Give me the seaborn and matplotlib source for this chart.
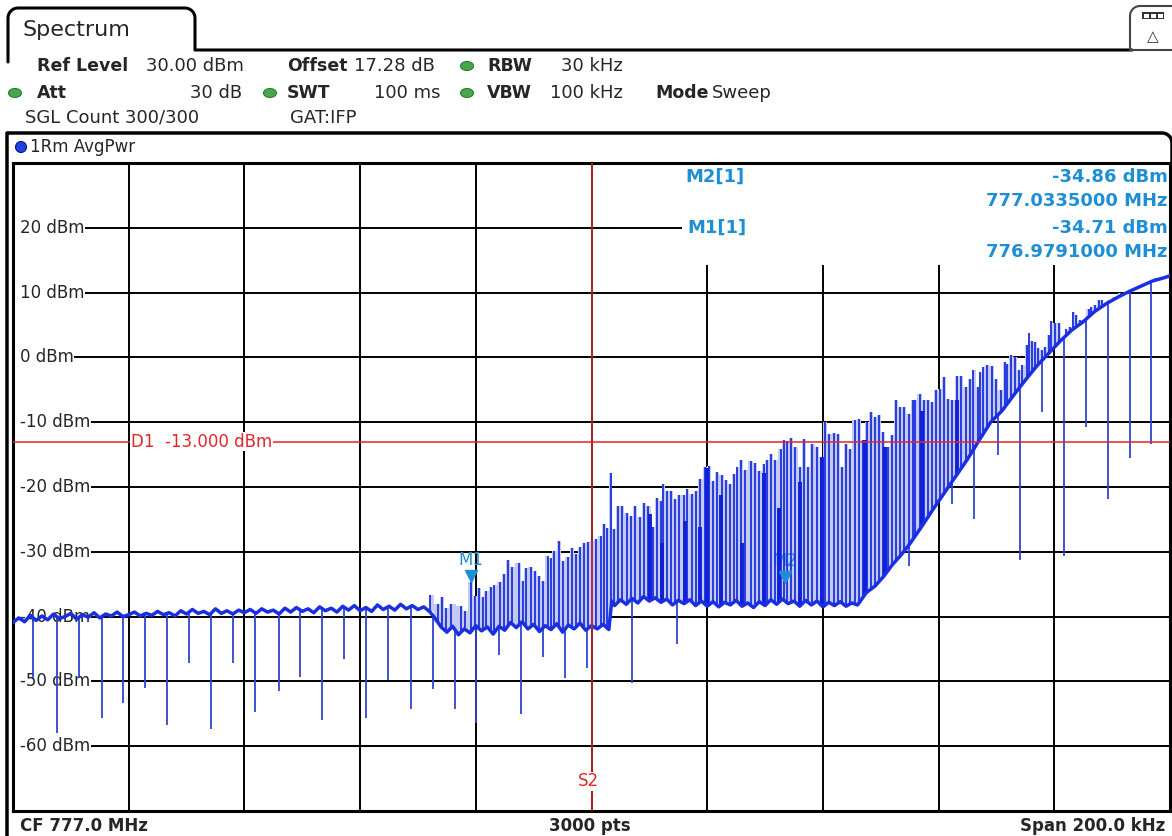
import numpy as np
import matplotlib
matplotlib.use("Agg")
import matplotlib.pyplot as plt
import matplotlib.transforms as mtransforms
from matplotlib.patches import Rectangle, Ellipse
import seaborn as sns

# ---------- data (frequency offset from CF in kHz, level in dBm) ----------
center_mhz = 777.0
span_khz = 200.0
ref_level = 30.0
n_points = 3000
d1_level = -13.0
s2_khz = 0.0

m1_khz, m1_db = -20.9, -34.71
m2_khz, m2_db = 33.5, -34.86

floor_khz = [-100, -99, -98, -97, -96, -95, -94, -93, -92, -91, -90, -89, -88, -87, -86, -85, -84, -83, -82, -81,
             -80, -79, -78, -77, -76, -75, -74, -73, -72, -71, -70, -69, -68, -67, -66, -65, -64, -63, -62, -61,
             -60, -59, -58, -57, -56, -55, -54, -53, -52, -51, -50, -49, -48, -47, -46, -45, -44, -43, -42, -41,
             -40, -39, -38, -37, -36, -35, -34, -33, -32, -31, -30, -29, -28,
             -27, -26, -25, -24, -23, -22, -21, -20, -19, -18, -17, -16, -15, -14, -13, -12, -11, -10, -9, -8,
             -7, -6, -5, -4, -3, -2, -1, 0, 1, 2, 3,
             3.5, 4, 5, 6, 7, 8, 9, 10, 11, 12, 13, 14, 15, 16, 17, 18, 19, 20, 21, 22, 23, 24, 25, 26,
             27, 28, 29, 30, 31, 32, 33, 34, 35, 36, 37, 38, 39, 40, 41, 42, 43, 44, 45, 46,
             47.5, 49, 50.5, 52, 53.5, 55, 57, 59, 61, 63, 65, 67, 69, 71, 73, 75, 77, 79, 81, 83, 85,
             87, 89, 91, 93, 95, 97, 99, 100]
floor_db = [-40.9, -40.2, -40.8, -39.8, -40.6, -39.9, -40.5, -39.6, -40.3, -40.0, -39.5, -40.4, -39.7, -40.1,
            -39.4, -40.2, -39.6, -39.9, -39.3, -40.0, -39.7, -39.3, -39.9, -39.5, -39.8, -39.2, -39.7, -39.4,
            -39.9, -39.1, -39.6, -38.9, -39.5, -39.2, -39.7, -38.8, -39.5, -39.1, -39.6, -39.0, -39.4, -38.9,
            -39.5, -38.8, -39.3, -39.0, -39.6, -38.7, -39.3, -38.6, -39.2, -38.8, -39.4, -38.5, -39.1, -38.7,
            -39.3, -38.4, -39.0, -38.3, -39.1, -38.6, -39.2, -38.2, -38.9, -38.4, -39.0, -38.1, -38.8, -38.3,
            -38.9, -38.5, -39.2,
            -40.3, -41.6, -42.4, -41.5, -42.8, -41.9, -42.5, -41.4, -42.2, -41.6, -42.7, -41.5, -42.1, -40.9,
            -41.7, -40.8, -41.9, -41.2, -42.3, -41.4, -42.0, -41.1, -42.4, -41.3, -41.9, -41.0, -42.1, -41.4,
            -41.9, -41.2, -42.0,
            -37.6, -38.3, -37.4, -38.1, -37.2, -37.9, -36.9, -37.6, -37.1, -37.8, -37.3, -38.2, -37.5, -38.0,
            -37.4, -38.3, -37.6, -38.4, -37.7, -38.5, -37.8, -38.2, -37.5, -38.4, -37.9, -38.6, -37.7, -38.3,
            -37.4, -38.1, -37.3, -38.0, -37.6, -38.4, -37.5, -38.2, -37.6, -38.5, -37.8, -38.3, -37.7, -38.4,
            -37.9, -38.2,
            -36.3, -35.3, -33.8, -32.0, -30.5, -28.8, -26.2, -23.5, -20.9, -18.3, -15.7, -12.8, -10.0, -8.2,
            -5.8, -3.5, -1.3, 0.6, 2.5, 4.2, 5.5, 7.1, 8.3, 9.3, 10.2, 11.0, 11.8, 12.3, 12.6]

up_khz = [-28.0, -26.6, -25.9, -25.1, -24.3, -22.6, -21.8, -20.9, -20.1, -19.4, -18.8, -18.2, -17.4, -16.8,
          -15.8, -15.1, -14.4, -13.7, -12.6, -11.9, -11.3, -10.5, -9.8, -9.1, -8.4, -7.6, -7.0, -6.5, -5.6,
          -4.9, -4.1, -3.3, -2.7, -2.0, -1.3, -0.6, 0.1, 0.8, 1.6, 2.2, 2.7, 3.3, 3.9, 4.6, 5.3, 6.1, 6.9,
          7.6, 8.3, 9.1, 9.8, 10.6, 11.4, 12.1, 12.4, 13.1, 13.7, 14.4, 15.1, 16.0, 16.5, 17.3, 18.0, 18.8,
          19.6, 20.3, 21.0, 21.7, 22.5, 23.2, 23.9, 24.6, 25.2, 25.9, 26.6, 27.5, 28.3, 29.0, 29.8, 30.3,
          31.1, 31.8, 32.7, 33.2, 33.8, 34.4, 35.2, 36.1, 36.8, 37.5, 38.2, 39.0, 39.7, 40.4, 41.1, 41.9,
          42.6, 43.3, 44.0, 44.7, 45.5, 46.2, 46.9, 47.7, 48.4, 49.0, 49.7, 50.4, 51.2, 51.9, 52.6, 53.4,
          54.1, 54.8, 55.5, 55.9, 56.7, 57.4, 58.1, 58.8, 59.6, 60.3, 61.0, 61.7, 62.4, 63.2, 63.9, 64.7,
          65.4, 66.0, 66.8, 67.2, 67.7, 68.3, 69.2, 69.9, 70.8, 71.4, 71.9, 72.6, 73.2, 73.9, 74.5, 75.2,
          75.6, 76.1, 76.7, 77.2, 77.8, 78.4, 79.0, 79.5, 80.2, 80.8, 81.5, 82.1, 82.7, 83.3, 83.8, 84.4,
          85.0, 86.0, 86.4, 87.0, 87.7, 88.3, 88.7, 89.6, 90.5, 91.6, 92.5, 93.6, 94.5, 95.6, 96.8, 97.6,
          98.5, 99.7]
up_db = [-36.6, -38.1, -36.9, -38.6, -38.0, -38.3, -39.1, -34.7, -36.8, -35.6, -37.0, -36.0, -35.5, -35.2,
         -34.7, -33.4, -31.3, -32.4, -31.8, -34.5, -32.5, -32.4, -32.9, -33.8, -34.5, -30.6, -31.0, -29.8, -28.3,
         -31.4, -30.8, -29.4, -30.3, -29.3, -28.7, -28.5, -28.3, -28.0, -27.6, -25.7, -26.3, -17.9, -26.5, -23.0,
         -23.0, -24.0, -24.4, -23.0, -24.6, -22.5, -22.9, -26.2, -21.7, -22.1, -19.5, -20.6, -20.6, -21.8, -21.2,
         -21.2, -20.3, -21.1, -20.6, -18.7, -16.9, -16.7, -19.0, -17.7, -18.2, -18.9, -19.5, -18.0, -16.9, -15.9,
         -17.3, -16.0, -16.3, -17.5, -16.4, -15.9, -14.9, -15.9, -14.1, -12.7, -12.9, -12.4, -13.8, -16.9, -12.6,
         -16.9, -13.3, -13.8, -15.4, -10.0, -11.8, -11.7, -11.8, -16.9, -13.3, -14.1, -9.6, -9.5, -12.8, -10.0,
         -8.4, -9.2, -8.9, -11.5, -13.8, -12.0, -6.6, -7.7, -7.6, -8.7, -6.6, -6.6, -5.6, -6.6, -6.5, -6.9,
         -5.0, -4.8, -3.0, -6.4, -6.6, -2.9, -2.8, -4.6, -3.3, -1.9, -4.6, -2.3, -1.5, -1.2, -1.4, -3.3, -5.1,
         -0.7, -1.0, 0.3, 0.0, -2.0, -1.2, 1.9, 3.8, 2.6, 2.4, 1.4, 1.1, 1.6, 3.4, 5.6, 5.3, 5.3, 2.9, 4.4,
         4.7, 7.0, 6.5, 5.7, 5.7, 7.5, 7.8, 8.1, 8.8, 8.8, 8.3, 8.9, 9.3, 9.9, 10.1, 10.5, 10.9, 11.4, 11.8,
         12.2, 12.4, 12.7]

cluster_khz = [10.1, 12.2, 16.1, 18.8, 19.9, 22.3, 26.0, 29.8, 32.4, 36.1, 39.8, 47.3, 50.8, 57.2, 63.2]
cluster_db = [-24.1, -28.7, -25.2, -26.2, -17.0, -21.3, -28.7, -17.9, -23.3, -19.3, -15.4, -12.8, -13.8, -8.2, -6.6]

down_khz = [-96.5, -92.4, -88.6, -84.7, -81.0, -77.1, -73.4, -69.6, -65.8, -62.0, -58.1, -54.1, -50.4, -46.6,
            -42.8, -39.0, -35.2, -31.2, -27.4, -23.6, -19.9, -16.0, -12.2, -8.4, -4.6, -0.8, 7.0, 14.7, 54.8,
            62.4, 66.2, 70.3, 74.1, 77.9, 81.7, 85.5, 89.3, 93.0, 96.8]
down_db = [-49.4, -58.0, -49.4, -55.6, -53.3, -51.0, -56.7, -47.1, -57.3, -47.1, -54.7, -51.5, -49.3, -55.9,
           -46.5, -55.6, -49.8, -54.2, -51.1, -54.2, -56.4, -45.9, -55.0, -46.2, -49.4, -47.9, -50.2, -44.3, -32.2,
           -22.7, -24.9, -15.0, -31.2, -8.4, -30.6, -10.8, -21.8, -15.6, -13.3]

y_grid = [20, 10, 0, -10, -20, -30, -40, -50, -60]
x_grid = [-80, -60, -40, -20, 0, 20, 40, 60, 80]

# ---------- style ----------
sns.set_style("white")
plt.rcParams['font.family'] = ['DejaVu Sans']

trace_col = '#1a30e0'
fill_col = '#c4caee'
red = '#e3252b'
mk_col = '#1e8fd5'

W, H = 1172, 836
fig = plt.figure(figsize=(W / 100, H / 100), dpi=100)

# background axes in pixel units for the instrument chrome
bg = fig.add_axes([0, 0, 1, 1])
bg.set_xlim(0, W)
bg.set_ylim(H, 0)
bg.axis('off')


def arc(cx, cy, r, a0, a1):
    t = np.radians(np.linspace(a0, a1, 12))
    return list(cx + r * np.cos(t)), list(cy + r * np.sin(t))


# tab "Spectrum"
ax_x, ax_y = arc(18, 18, 10, 180, 270)
bx_x, bx_y = arc(185, 18, 10, 270, 360)
bg.plot([8] + ax_x + bx_x + [195, 1132], [62] + ax_y + bx_y + [50, 50], color='black', lw=2.2)
bg.text(22, 30, "Spectrum", fontsize=16, va='center', ha='left')

# icon box top right
cx_x, cy_y = arc(1140, 16, 10, 180, 270)
bg.plot([1130] + cx_x + [1180], [50] + cy_y + [6], color='#444444', lw=1.5)
bg.plot([1130, 1180], [50, 50], color='#444444', lw=1.5)
bg.add_patch(Rectangle((1142, 12), 22, 7, fc='#333333', ec='none'))
for xx in (1144, 1151, 1158):
    bg.add_patch(Rectangle((xx, 13.5), 5, 4, fc='white', ec='none'))
bg.text(1153, 37, "\u25b3", fontsize=11, ha='center', va='center', color='#333333')

# settings rows
rows = [
    (37, 66, "Ref Level", 'bold', 'left'), (146, 66, "30.00 dBm", 'normal', 'left'),
    (287, 66, "Offset", 'bold', 'left'), (354, 66, "17.28 dB", 'normal', 'left'),
    (487, 66, "RBW", 'bold', 'left'), (623, 66, "30 kHz", 'normal', 'right'),
    (37, 93, "Att", 'bold', 'left'), (242, 93, "30 dB", 'normal', 'right'),
    (287, 93, "SWT", 'bold', 'left'), (440, 93, "100 ms", 'normal', 'right'),
    (487, 93, "VBW", 'bold', 'left'), (623, 93, "100 kHz", 'normal', 'right'),
    (655, 93, "Mode", 'bold', 'left'), (712, 93, "Sweep", 'normal', 'left'),
    (25, 118, "SGL Count 300/300", 'normal', 'left'), (290, 118, "GAT:IFP", 'normal', 'left'),
]
for x, y, s, w, ha in rows:
    bg.text(x, y, s, fontsize=12.5 if w == 'bold' else 13, fontweight=w, ha=ha, va='center')
for x, y in [(15, 93), (270, 93), (467, 66), (467, 93)]:
    bg.add_patch(Ellipse((x, y), 13, 9, fc='#46a84a', ec='#2e7d32', lw=0.8))

# trace window frame
dx_x, dy_y = arc(1162, 143, 10, 270, 360)
bg.plot([7, 7] + dx_x + [1172, 1172], [836, 133] + dy_y + [150, 163], color='black', lw=2.5)
bg.add_patch(Ellipse((21, 147), 11, 11, fc='#2040e0', ec='#0a1a80', lw=0.8))
bg.text(30, 147, "1Rm AvgPwr", fontsize=12, va='center', ha='left')

# bottom status row
bg.text(20, 826, f"CF {center_mhz:.1f} MHz", fontsize=12, fontweight='bold', va='center', ha='left')
bg.text(590, 826, f"{n_points} pts", fontsize=12, fontweight='bold', va='center', ha='center')
bg.text(1165, 826, f"Span {span_khz:.1f} kHz", fontsize=12, fontweight='bold', va='center', ha='right')

# ---------- main diagram ----------
L, R, T, B = 13, 1170, 163, 811
ax = fig.add_axes([L / W, 1 - B / H, (R - L) / W, (B - T) / H])
ax.set_xlim(-span_khz / 2, span_khz / 2)
ax.set_ylim(ref_level - 100, ref_level)
ax.set_xticks(x_grid)
ax.set_yticks(y_grid)
ax.tick_params(length=0, labelbottom=False, labelleft=False)
ax.set_axisbelow(True)
ax.grid(True, color='black', lw=1.4)
for sp in ax.spines.values():
    sp.set_color('black')
    sp.set_linewidth(2.2)

# marker table area and the strip before the level labels hide the grid
ax.add_patch(Rectangle((0.578, 0.843), 0.422, 0.157, transform=ax.transAxes, fc='white', ec='none', zorder=1))
ax.add_patch(Rectangle((0.0, 0.0), 0.007, 1.0, transform=ax.transAxes, fc='white', ec='none', zorder=1))

# level labels sit on the grid lines
for v in y_grid:
    ax.text(0.006, v, f"{v} dBm", transform=ax.get_yaxis_transform(), fontsize=12, ha='left', va='center',
            zorder=2, bbox=dict(fc='white', ec='none', pad=0.5))

# trace
up_base = np.interp(up_khz, floor_khz, floor_db)
cl_base = np.interp(cluster_khz, floor_khz, floor_db)
dn_base = np.interp(down_khz, floor_khz, floor_db)
ax.fill_between(up_khz, up_base, up_db, step='mid', color=fill_col, lw=0, zorder=2.7)

# markers labels (above the fill, under the trace lines)
for name, mk, mv in [("M1", m1_khz, m1_db), ("M2", m2_khz, m2_db)]:
    ax.annotate(name, xy=(mk, mv), xytext=(0, 22), textcoords='offset pixels', ha='center', va='center',
                fontsize=12, color=mk_col, zorder=2.8)

ax.vlines(up_khz, up_base, up_db, color=trace_col, lw=1.3, zorder=3)
ax.vlines(cluster_khz, cl_base, cluster_db, color='#1020d8', lw=2.8, zorder=3)
ax.vlines(down_khz, dn_base, down_db, color='#2f45d0', lw=1.3, zorder=3)
sns.lineplot(x=floor_khz, y=floor_db, ax=ax, color=trace_col, lw=2.5, estimator=None, sort=False, zorder=3.2)

# marker triangles, tip on the trace value
tri = mtransforms.offset_copy(ax.transData, fig=fig, x=0, y=6, units='dots')
for mk, mv in [(m1_khz, m1_db), (m2_khz, m2_db)]:
    ax.plot([mk], [mv], marker='v', ms=9, color=mk_col, mec=mk_col, transform=tri, zorder=3.5)

# display line and frequency line
ax.axhline(d1_level, color=red, lw=1.1, zorder=4)
ax.axvline(s2_khz, color=red, lw=1.1, zorder=4)
ax.text(-79.6, d1_level, f"D1  {d1_level:.3f} dBm", fontsize=12, color=red, ha='left', va='center', zorder=4.5,
        bbox=dict(fc='white', ec='none', pad=0.5))
ax.text(s2_khz - 0.5, -65.4, "S2", fontsize=12, color=red, ha='center', va='center', zorder=4.5,
        bbox=dict(fc='white', ec='none', pad=0.3))

ax.set_xlabel("")
ax.set_ylabel("")

# marker table
tab = [(685, 177, "M2[1]", 'left'), (1168, 177, f"{m2_db:.2f} dBm", 'right'),
       (1168, 201, f"{center_mhz + m2_khz / 1000:.7f} MHz", 'right'),
       (687, 228, "M1[1]", 'left'), (1168, 228, f"{m1_db:.2f} dBm", 'right'),
       (1168, 252, f"{center_mhz + m1_khz / 1000:.7f} MHz", 'right')]
for x, y, s, ha in tab:
    fig.text(x / W, 1 - y / H, s, fontsize=13, fontweight='bold', color=mk_col, ha=ha, va='center')

fig.savefig("out.png", dpi=100)
